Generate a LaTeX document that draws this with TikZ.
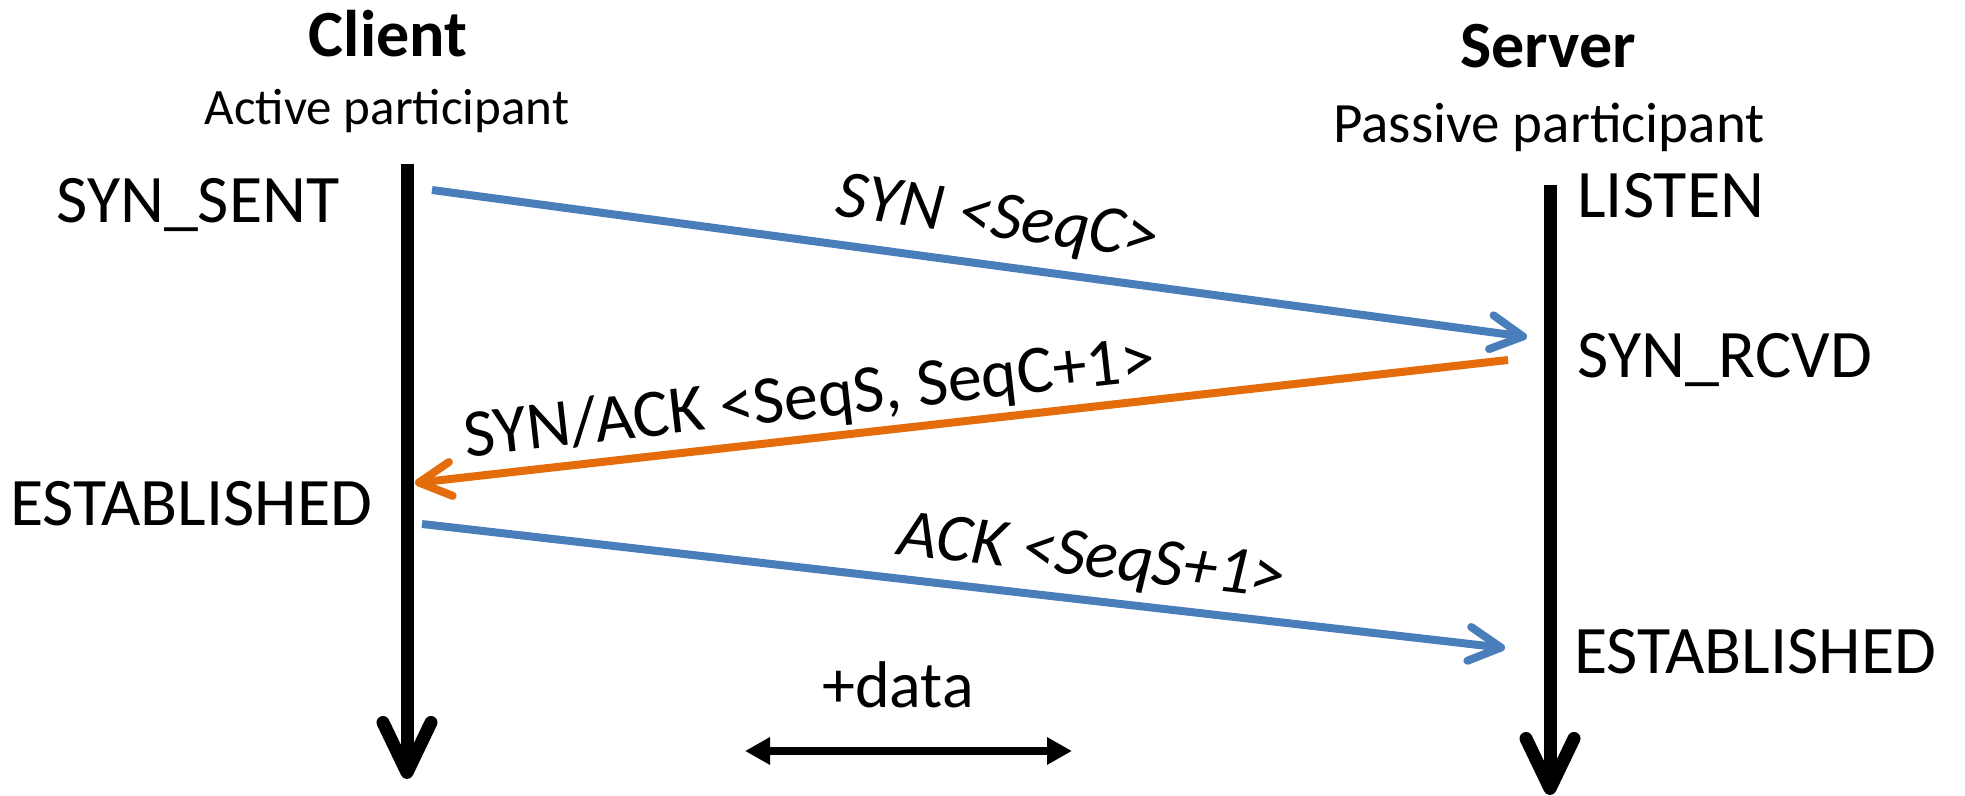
\documentclass[tikz,border=0pt]{standalone}
\usepackage{fontspec}
\setmainfont{Carlito}
\usetikzlibrary{arrows.meta}
\definecolor{synblue}{RGB}{74,126,187}
\definecolor{ackorange}{RGB}{228,108,10}

\begin{document}
\begin{tikzpicture}[x=0.5pt,y=-0.5pt,
    state/.style={anchor=base west, inner sep=0pt, font=\fontsize{34}{40}\selectfont},
    title/.style={anchor=base, inner sep=0pt, font=\fontsize{33}{40}\selectfont\bfseries},
    role/.style={anchor=base, inner sep=0pt},
    lifeline/.style={line width=6.5pt, -{Straight Barb[round,length=25pt,width=24pt]}},
    msg/.style={line width=4pt, -{Straight Barb[round,length=16pt,width=17pt]}},
    msglabel/.style={sloped, anchor=base, inner sep=0pt, font=\fontsize{34}{40}\selectfont}]
    \useasboundingbox (0,0) rectangle (1965,796);

    % Titles
    \node[title] (client) at (388,57) {Client};
    \node[role, font=\fontsize{25.5}{30}\selectfont] (active) at (387,125) {Active participant};
    \node[title] (server) at (1548,68) {Server};
    \node[role, font=\fontsize{28.5}{34}\selectfont] (passive) at (1549,143) {Passive participant};

    % Lifelines
    \coordinate (cTop) at (407,164);
    \coordinate (cEnd) at (407,779);
    \coordinate (sTop) at (1550,185);
    \coordinate (sEnd) at (1550,795);
    \draw[lifeline] (cTop) -- (cEnd);
    \draw[lifeline] (sTop) -- (sEnd);

    % States
    \node[state] (synSent) at (56,223) {SYN\_SENT};
    \node[state] (cliEst) at (10,525) {ESTABLISHED};
    \node[state] (listen) at (1577,218) {LISTEN};
    \node[state] (synRcvd) at (1577,378) {SYN\_RCVD};
    \node[state] (srvEst) at (1574,673) {ESTABLISHED};

    % Messages
    \coordinate (synA) at (432,190);
    \coordinate (synB) at (1527,337);
    \coordinate (saA) at (1508,360);
    \coordinate (saB) at (415,483);
    \coordinate (ackA) at (422,524);
    \coordinate (ackB) at (1505,648);
    \draw[msg, synblue] (synA) -- node[msglabel, text=black, pos=0.511, yshift=14pt] (synLbl) {\itshape SYN <SeqC>} (synB);
    \draw[msg, ackorange] (saA) -- node[msglabel, text=black, pos=0.635, yshift=10pt] (saLbl) {SYN/ACK <SeqS, SeqC+1>} (saB);
    \draw[msg, synblue] (ackA) -- node[msglabel, text=black, pos=0.614, yshift=12pt] (ackLbl) {\itshape ACK <SeqS+1>} (ackB);

    % Data
    \node[role, font=\fontsize{33}{40}\selectfont] (data) at (898,707) {+data};
    \coordinate (dL) at (745,751);
    \coordinate (dR) at (1072,751);
    \draw[line width=4pt, {Triangle[length=12.5pt,width=13pt]}-{Triangle[length=12.5pt,width=13pt]}] (dL) -- (dR);
\end{tikzpicture}
\end{document}
